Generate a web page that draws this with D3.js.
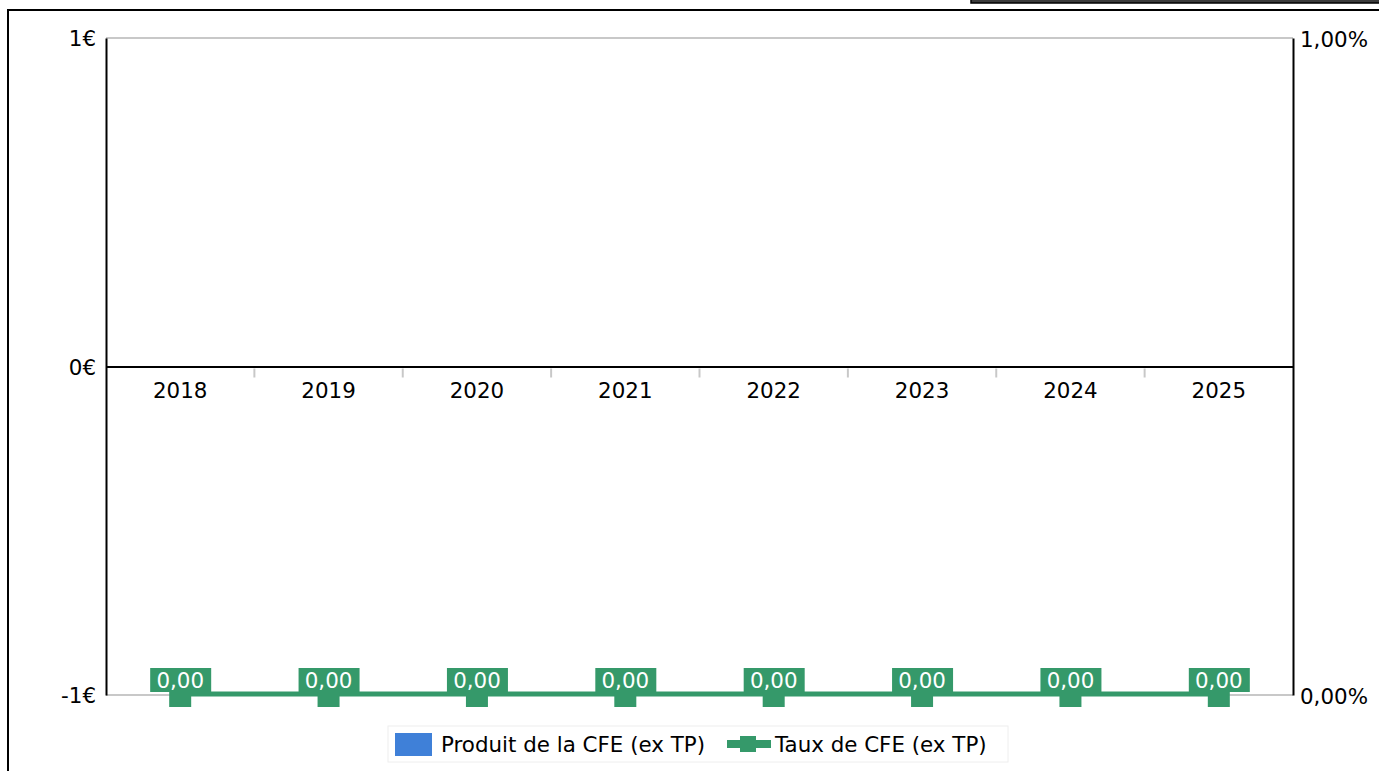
<!DOCTYPE html>
<html>
<head>
<meta charset="utf-8">
<script src="https://cdn.jsdelivr.net/npm/d3@7"></script>
<style>
  html, body { margin: 0; padding: 0; background: #fff; overflow: hidden; }
  svg { display: block; font-family: "DejaVu Sans", sans-serif; }
</style>
</head>
<body>
<svg id="chart" width="1379" height="771"></svg>
<script>
// data
var years = ["2018", "2019", "2020", "2021", "2022", "2023", "2024", "2025"];
var produit = [0, 0, 0, 0, 0, 0, 0, 0];      // Produit de la CFE (ex TP), €
var taux = [0, 0, 0, 0, 0, 0, 0, 0];         // Taux de CFE (ex TP), %
var leftTicks = [-1, 0, 1];
var rightTicks = [0, 1];
var seriesNames = ["Produit de la CFE (ex TP)", "Taux de CFE (ex TP)"];

var blue = "#3f80d8", green = "#35996a";
var fs = 21.4;

var svg = d3.select("#chart");

// outer frame and the bit of box peeking in at the top
svg.append("rect").attr("x", 971).attr("y", -12).attr("width", 420).attr("height", 15)
  .attr("fill", "#3b3b3b").attr("stroke", "#000").attr("stroke-width", 1.5);
svg.append("path").attr("d", "M8,790V10H1390").attr("fill", "none")
  .attr("stroke", "#000").attr("stroke-width", 2);

var pLeft = 106, pRight = 1293, pTop = 38, pBottom = 695;

var x = d3.scaleBand().domain(years).range([pLeft, pRight]).padding(0);
var yL = d3.scaleLinear().domain([-1, 1]).range([pBottom, pTop]);
var yR = d3.scaleLinear().domain([0, 1]).range([pBottom, pTop]);

// gridlines top & bottom
svg.append("g").selectAll("line").data([1, -1]).join("line")
  .attr("x1", pLeft).attr("x2", pRight)
  .attr("y1", d => yL(d)).attr("y2", d => yL(d))
  .attr("stroke", "#c8c8c8").attr("stroke-width", 2);

// bars (all zero)
svg.append("g").selectAll("rect").data(produit).join("rect")
  .attr("x", (d, i) => x(years[i]) + x.bandwidth() * 0.2)
  .attr("width", x.bandwidth() * 0.6)
  .attr("y", d => Math.min(yL(d), yL(0)))
  .attr("height", d => Math.abs(yL(d) - yL(0)))
  .attr("fill", blue);

// left axis
var gL = svg.append("g").attr("transform", "translate(" + pLeft + ",0)")
  .call(d3.axisLeft(yL).tickValues(leftTicks).tickSize(0).tickPadding(10)
    .tickFormat(d => String(d) + "€"));
gL.select(".domain").attr("stroke", "#000").attr("stroke-width", 2);
gL.selectAll("text").attr("font-size", fs).attr("font-family", "DejaVu Sans").attr("fill", "#000")
  .attr("dy", "0.36em");

// right axis
var gR = svg.append("g").attr("transform", "translate(" + pRight + ",0)")
  .call(d3.axisRight(yR).tickValues(rightTicks).tickSize(0).tickPadding(7)
    .tickFormat(d => d3.format(".2f")(d).replace(".", ",") + "%"));
gR.select(".domain").attr("stroke", "#000").attr("stroke-width", 2);
gR.selectAll("text").attr("font-size", fs).attr("font-family", "DejaVu Sans").attr("fill", "#000")
  .attr("dy", "0.4em");

// category axis on zero line
var gX = svg.append("g").attr("transform", "translate(0," + yL(0) + ")")
  .call(d3.axisBottom(x).tickSize(0).tickPadding(16));
gX.select(".domain").attr("stroke", "#000").attr("stroke-width", 2);
gX.selectAll("text").attr("font-size", fs).attr("font-family", "DejaVu Sans").attr("fill", "#000");
svg.append("g").selectAll("line").data(years.slice(1)).join("line")
  .attr("x1", d => x(d)).attr("x2", d => x(d))
  .attr("y1", yL(0) + 2).attr("y2", yL(0) + 11)
  .attr("stroke", "#c8c8c8").attr("stroke-width", 2);

// taux line
var cx = (d, i) => x(years[i]) + x.bandwidth() / 2;
var line = d3.line().x(cx).y(d => yR(d) - 1);
svg.append("path").datum(taux).attr("d", line)
  .attr("fill", "none").attr("stroke", green).attr("stroke-width", 5);
svg.append("g").selectAll("rect").data(taux).join("rect")
  .attr("x", (d, i) => cx(d, i) - 11).attr("y", d => yR(d) - 10)
  .attr("width", 22).attr("height", 22).attr("fill", green);

// value labels
var lab = svg.append("g").selectAll("g").data(taux).join("g")
  .attr("transform", (d, i) => "translate(" + cx(d, i) + "," + (yR(d) - 15) + ")");
lab.append("rect").attr("x", -30).attr("y", -12).attr("width", 61).attr("height", 24)
  .attr("fill", green);
lab.append("text").attr("text-anchor", "middle").attr("dy", "0.36em")
  .attr("font-size", fs).attr("fill", "#fff")
  .text(d => d3.format(".2f")(d).replace(".", ","));

// legend
var lg = svg.append("g");
lg.append("rect").attr("x", 388).attr("y", 726).attr("width", 620).attr("height", 36)
  .attr("fill", "#fff").attr("stroke", "#eeeeee").attr("stroke-width", 1);
lg.append("rect").attr("x", 395).attr("y", 733).attr("width", 37).attr("height", 23).attr("fill", blue);
lg.append("text").attr("x", 441).attr("y", 744).attr("dy", "0.36em").attr("font-size", fs)
  .text(seriesNames[0]);
lg.append("rect").attr("x", 727).attr("y", 740).attr("width", 44).attr("height", 8).attr("fill", green);
lg.append("rect").attr("x", 740).attr("y", 736).attr("width", 16).attr("height", 16).attr("fill", green);
lg.append("text").attr("x", 775).attr("y", 744).attr("dy", "0.36em").attr("font-size", fs)
  .text(seriesNames[1]);
</script>
</body>
</html>
